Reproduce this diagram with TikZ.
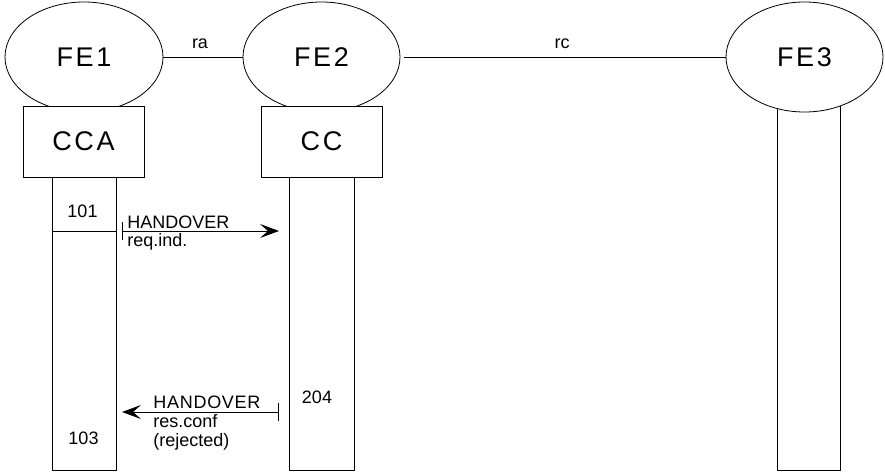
\documentclass[tikz,border=0pt]{standalone}
\usepackage{fontspec}
\setmainfont{Liberation Sans}
\usetikzlibrary{shapes.geometric,arrows.meta}
\begin{document}
\begin{tikzpicture}[x=1pt,y=-1pt,
  line width=0.8pt,
  big/.style={font=\fontsize{27}{30}\selectfont\addfontfeature{LetterSpace=10}},
  fe/.style={draw,fill=white,ellipse,inner sep=0pt,minimum width=158pt,minimum height=110pt,big},
  fbox/.style={draw,fill=white,rectangle,inner sep=0pt,minimum width=121pt,minimum height=71pt,big},
  life/.style={draw,fill=white,rectangle,inner sep=0pt,minimum width=64pt},
  lbl/.style={inner sep=0pt,font=\fontsize{18}{20}\selectfont},
  msg/.style={{Bar[width=18pt,line width=0.8pt]}-{Stealth[length=19pt,width=14pt,inset=8pt]}}
]
\useasboundingbox (0,0) rectangle (885,473);
% lifelines
\node[life,minimum height=293pt] (l1) at (84,323.5) {};
\node[life,minimum height=293pt,minimum width=65pt] (l2) at (321.5,323.5) {};
\node[life,minimum height=380pt,minimum width=63pt] (l3) at (808.5,280) {};
% ellipses
\node[fe] (fe1) at (84,57) {FE1};
\node[fe,minimum width=157pt] (fe2) at (321.5,57) {FE2};
\node[fe,minimum width=157pt] (fe3) at (804.5,57) {FE3};
% boxes
\node[fbox] (cca) at (83.5,141.5) {CCA};
\node[fbox] (cc) at (321.5,141.5) {CC};
% links
\draw (fe1.east) -- (fe2.west);
\draw ([xshift=4pt]fe2.east) -- (fe3.west);
\node[lbl,anchor=base] (ra) at (200,49) {ra};
\node[lbl,anchor=base] (rc) at (562,49) {rc};
% message 1
\coordinate (d1a) at (52,231);
\coordinate (d1b) at (116,231);
\draw (d1a) -- (d1b);
\coordinate (m1s) at (122,231);
\coordinate (m1e) at (279,231);
\draw[msg] (m1s) -- (m1e);
\node[lbl,anchor=base] (n101) at (82.5,217) {101};
\node[lbl,anchor=base west] (h1) at (127,228) {HANDOVER};
\node[lbl,anchor=base west] (r1) at (127,246) {req.ind.};
% message 2
\coordinate (m2s) at (279,412);
\coordinate (m2e) at (122,412);
\draw[msg] (m2s) -- (m2e);
\node[lbl,anchor=base] (n204) at (317,403) {204};
\node[lbl,anchor=base] (n103) at (83.5,444) {103};
\node[lbl,anchor=base west,font=\fontsize{18}{20}\selectfont\addfontfeature{LetterSpace=4}] (h2) at (153,408) {HANDOVER};
\node[lbl,anchor=base west] (r2) at (153,427) {res.conf};
\node[lbl,anchor=base west] (r3) at (153,446) {(rejected)};
\end{tikzpicture}
\end{document}
